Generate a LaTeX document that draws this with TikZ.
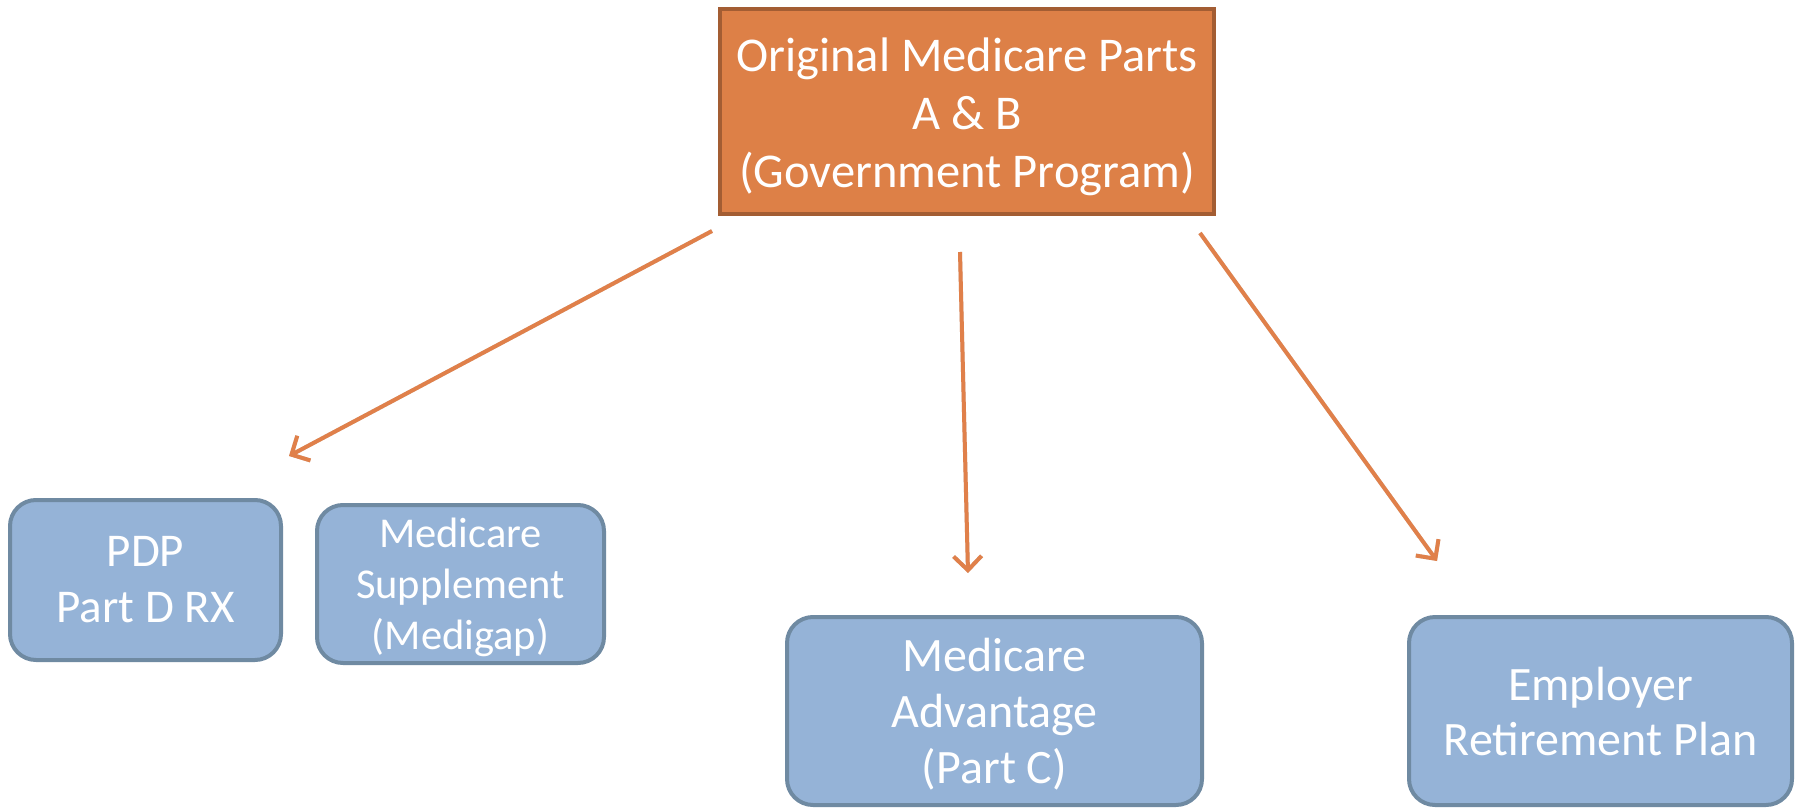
\documentclass[tikz,border=0pt]{standalone}
\usepackage{fontspec}
\setmainfont{Carlito}
\usetikzlibrary{arrows.meta}
\definecolor{orfill}{HTML}{DD8047}
\definecolor{ordraw}{HTML}{A35D33}
\definecolor{blfill}{HTML}{95B3D7}
\definecolor{bldraw}{HTML}{6F8AA2}
\definecolor{arr}{HTML}{E0804A}
\tikzset{
  topbox/.style={draw=ordraw, fill=orfill, line width=4pt, inner sep=0pt},
  toptext/.style={text=white, align=center, inner sep=0pt, font=\fontsize{48.5}{58}\selectfont},
  planbox/.style={draw=bldraw, fill=blfill, line width=4pt, rounded corners=26pt,
    text=white, align=center, inner sep=0pt},
  link/.style={draw=arr, line width=4pt, -{Straight Barb[length=14pt,width=28pt,line width=4pt]}},
  linkshadow/.style={draw=black!35, opacity=0.45, line width=4pt, -{Straight Barb[length=14pt,width=28pt,line width=4pt]}},
}
\begin{document}
\begin{tikzpicture}[x=1pt,y=-1pt]
\useasboundingbox (0,0) rectangle (1796,808);
\node[topbox, minimum width=494pt, minimum height=205pt] (top) at (967,111.5) {};
\node[toptext] (toplabel) at ([yshift=-5pt]top.center)
  {Original Medicare Parts\\A \& B\\(Government Program)};
\node[planbox, minimum width=271pt, minimum height=160pt, font=\fontsize{47}{56}\selectfont] (pdp) at (145.5,580)
  {PDP\\Part D RX};
\node[planbox, minimum width=287pt, minimum height=158pt, font=\fontsize{42.5}{51}\selectfont, text depth=-4pt] (sup) at (460.5,584)
  {Medicare\\Supplement\\(Medigap)};
\node[planbox, minimum width=415pt, minimum height=188pt, font=\fontsize{48}{56}\selectfont, text depth=-4pt] (adv) at (994.5,711)
  {Medicare\\Advantage\\(Part C)};
\node[planbox, minimum width=383pt, minimum height=188pt, font=\fontsize{48}{55}\selectfont, text depth=-4pt] (emp) at (1600.5,711)
  {Employer\\Retirement Plan};
\coordinate (s1) at (712,231);
\coordinate (e1) at (289,456);
\coordinate (s2) at (960,252);
\coordinate (e2) at (968,573);
\coordinate (s3) at (1200,233);
\coordinate (e3) at (1437,561);
\begin{scope}[shift={(2,4)}]
\draw[linkshadow] (s1) -- (e1);
\draw[linkshadow] (s2) -- (e2);
\draw[linkshadow] (s3) -- (e3);
\end{scope}
\draw[link] (s1) -- (e1);
\draw[link] (s2) -- (e2);
\draw[link] (s3) -- (e3);
\end{tikzpicture}
\end{document}
